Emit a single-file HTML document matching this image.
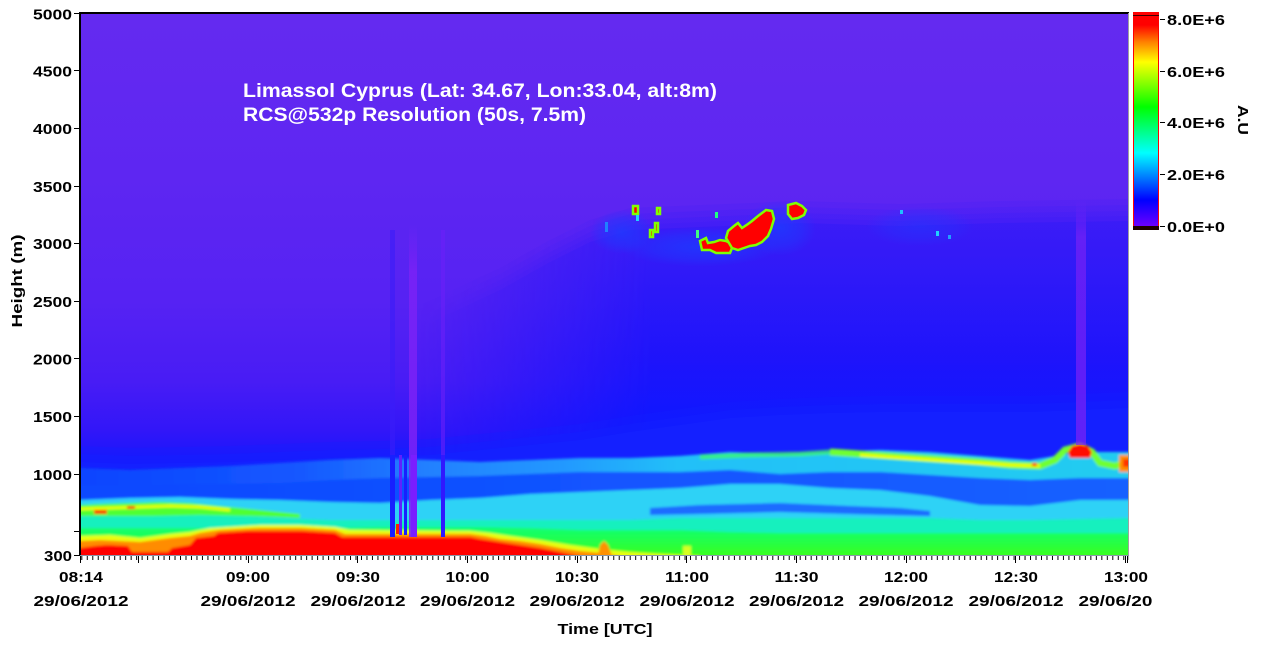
<!DOCTYPE html>
<html><head><meta charset="utf-8"><style>
html,body{margin:0;padding:0;background:#fff;width:1263px;height:649px;overflow:hidden}
svg{display:block}
text{font-family:"Liberation Sans",Arial,sans-serif;font-weight:bold}
</style></head><body>
<svg width="1263" height="649" viewBox="0 0 1263 649" xmlns="http://www.w3.org/2000/svg">
<defs>
<clipPath id="plot"><rect x="81" y="14" width="1047" height="541"/></clipPath>
<clipPath id="lastd"><rect x="1000" y="585" width="152" height="30"/></clipPath>
<linearGradient id="bg" x1="0" y1="13" x2="0" y2="555" gradientUnits="userSpaceOnUse">
<stop offset="0" stop-color="#642af0"/>
<stop offset="0.3" stop-color="#5e26f2"/>
<stop offset="0.53" stop-color="#5622f3"/>
<stop offset="0.68" stop-color="#481cf5"/>
<stop offset="0.77" stop-color="#3216f8"/>
<stop offset="0.83" stop-color="#1616fd"/>
<stop offset="1" stop-color="#1020ff"/>
</linearGradient>
<linearGradient id="rf" x1="0" y1="205" x2="0" y2="460" gradientUnits="userSpaceOnUse">
<stop offset="0" stop-color="#3c1cf6"/>
<stop offset="0.3" stop-color="#2a18f8"/>
<stop offset="0.6" stop-color="#1a14fb"/>
<stop offset="0.85" stop-color="#0c16ff"/>
<stop offset="1" stop-color="#0818ff"/>
</linearGradient>
<linearGradient id="mh" x1="420" y1="0" x2="650" y2="0" gradientUnits="userSpaceOnUse">
<stop offset="0" stop-color="#000"/>
<stop offset="1" stop-color="#fff"/>
</linearGradient>
<mask id="mright" maskUnits="userSpaceOnUse" x="0" y="0" width="1263" height="649"><rect x="0" y="0" width="1263" height="649" fill="url(#mh)"/></mask>
<radialGradient id="haze"><stop offset="0" stop-color="#1c3cff" stop-opacity="0.75"/><stop offset="0.6" stop-color="#1c3cff" stop-opacity="0.4"/><stop offset="1" stop-color="#1c3cff" stop-opacity="0"/></radialGradient>
<linearGradient id="sv" x1="0" y1="0" x2="0" y2="1"><stop offset="0" stop-color="#7c22f6" stop-opacity="0"/><stop offset="0.15" stop-color="#7c22f6" stop-opacity="0.8"/><stop offset="1" stop-color="#7c22f6" stop-opacity="0.9"/></linearGradient>
<linearGradient id="gL1" x1="80" y1="0" x2="1128" y2="0" gradientUnits="userSpaceOnUse">
<stop offset="0" stop-color="#0c44ff"/>
<stop offset="0.21" stop-color="#1458ff"/>
<stop offset="0.33" stop-color="#2480ff"/>
<stop offset="0.46" stop-color="#2498ff"/>
<stop offset="0.57" stop-color="#20c0f8"/>
<stop offset="1" stop-color="#20ccf0"/>
</linearGradient>
<linearGradient id="gL2" x1="80" y1="0" x2="1128" y2="0" gradientUnits="userSpaceOnUse">
<stop offset="0" stop-color="#0c48ff"/>
<stop offset="1" stop-color="#1860ff"/>
</linearGradient>
<linearGradient id="gG" x1="0" y1="528" x2="0" y2="555" gradientUnits="userSpaceOnUse">
<stop offset="0" stop-color="#10ff70"/>
<stop offset="1" stop-color="#38ff20"/>
</linearGradient>
<linearGradient id="cb" x1="0" y1="15" x2="0" y2="227" gradientUnits="userSpaceOnUse">
<stop offset="0" stop-color="#ff0000"/>
<stop offset="0.047" stop-color="#ff0000"/>
<stop offset="0.127" stop-color="#ff8000"/>
<stop offset="0.222" stop-color="#ffff00"/>
<stop offset="0.434" stop-color="#00ff00"/>
<stop offset="0.651" stop-color="#00ffff"/>
<stop offset="0.873" stop-color="#0000ff"/>
<stop offset="1" stop-color="#7000ff"/>
</linearGradient>
<pattern id="tk" x="81.3" y="556" width="5.484" height="5" patternUnits="userSpaceOnUse"><rect x="0" y="0" width="1" height="4" fill="#000"/></pattern>
<filter id="b1" x="-10%" y="-10%" width="120%" height="120%"><feGaussianBlur stdDeviation="1.3"/></filter>
<polygon id="rfp" points="380,345 440,318 500,290 550,262 590,242 630,230 700,227 800,223 900,226 1000,223 1128,221 1145,221 1145,580 380,580"/>
</defs>

<g clip-path="url(#plot)">
<rect x="60" y="0" width="1090" height="580" fill="url(#bg)"/>
<!-- right-side blue field -->
<g mask="url(#mright)" fill="url(#rf)">
<use href="#rfp" transform="translate(0,-22)" opacity="0.15"/>
<use href="#rfp" transform="translate(0,-16)" opacity="0.2"/>
<use href="#rfp" transform="translate(0,-10)" opacity="0.25"/>
<use href="#rfp" transform="translate(0,-5)" opacity="0.3"/>
<use href="#rfp" opacity="0.75"/>
</g>
<!-- cloud haze -->
<ellipse cx="700" cy="247" rx="80" ry="20" fill="url(#haze)"/>
<ellipse cx="622" cy="232" rx="32" ry="22" fill="url(#haze)"/>
<ellipse cx="780" cy="228" rx="36" ry="28" fill="url(#haze)"/>
<ellipse cx="920" cy="226" rx="55" ry="20" fill="url(#haze)" opacity="0.6"/>
<!-- blue layer soft top -->
<g fill="#1420ff">
<polygon transform="translate(0,-16)" opacity="0.3" points="60,462 80,462 130,464 180,463 230,462 280,460 330,458 380,457 430,455 480,450 530,445 580,440 630,432 680,425 730,418 780,415 830,413 880,412 930,412 980,412 1030,412 1080,410 1128,408 1145,408 1145,580 60,580"/>
<polygon transform="translate(0,-8)" opacity="0.4" points="60,462 80,462 130,464 180,463 230,462 280,460 330,458 380,457 430,455 480,450 530,445 580,440 630,432 680,425 730,418 780,415 830,413 880,412 930,412 980,412 1030,412 1080,410 1128,408 1145,408 1145,580 60,580"/>
<polygon points="60,462 80,462 130,464 180,463 230,462 280,460 330,458 380,457 430,455 480,450 530,445 580,440 630,432 680,425 730,418 780,415 830,413 880,412 930,412 980,412 1030,412 1080,410 1128,408 1145,408 1145,580 60,580"/>
</g>
<g filter="url(#b1)">
<polygon fill="url(#gL1)" points="60,468 80,468 130,470 180,468 230,466 280,463 330,460 380,458 430,460 480,462 530,460 580,458 630,458 680,456 730,452 780,454 830,452 880,450 930,452 980,456 1030,460 1080,452 1128,452 1145,452 1145,580 60,580"/>
<polygon fill="url(#gL2)" points="60,485 80,485 130,486 180,484 230,484 280,483 330,480 380,478 430,477 480,476 530,474 580,472 630,472 680,472 730,470 780,474 830,472 880,472 930,475 980,478 1030,480 1080,478 1128,478 1145,478 1145,580 60,580"/>
<polygon fill="#2ed2f6" points="60,500 80,500 130,498 180,497 230,499 280,500 330,502 380,503 430,500 480,498 530,494 580,492 630,490 680,488 730,484 780,484 830,488 880,490 930,496 980,505 1030,506 1080,500 1128,500 1145,500 1145,580 60,580"/>
<polygon fill="#1a6cff" points="650,508 700,505 780,503 850,506 900,508 930,511 930,516 850,514 780,512 700,514 650,515"/>
<polygon fill="#12f0be" points="60,512 80,512 130,512 180,513 230,515 280,518 330,520 380,520 430,520 480,520 530,520 580,520 630,520 680,518 730,518 780,518 830,518 880,518 930,518 980,520 1030,520 1080,519 1128,518 1145,518 1145,580 60,580"/>
<polygon fill="url(#gG)" points="60,528 80,528 130,528 180,528 230,528 280,528 330,528 380,527 430,527 480,527 530,528 580,530 630,530 680,530 730,532 780,533 830,533 880,533 930,533 980,533 1030,533 1080,533 1128,533 1145,533 1145,580 60,580"/>
<polygon fill="#50ff30" points="60,505 80,505 100,504 130,503 160,502 190,503 220,506 250,509 280,512 300,514 300,518 250,516 200,515 150,516 100,516 80,516 60,516"/>
<polyline fill="none" stroke="#e8ff00" stroke-width="3" points="80,509 110,508 140,507 170,506 200,507 230,510"/>
<rect x="94" y="510" width="13" height="4" fill="#ff2000"/>
<rect x="127" y="506" width="8" height="3" fill="#ff4000"/>
<polyline fill="none" stroke="#40ff60" stroke-width="5" opacity="0.7" points="700,457 750,455 800,454 830,452 860,454"/>
<polyline fill="none" stroke="#70ff30" stroke-width="7" points="830,452 860,454 890,456 920,458 950,460 980,462 1010,465 1040,466 1055,460 1065,450 1080,446 1092,452 1100,463 1115,466 1128,462 1140,462"/>
<polyline fill="none" stroke="#f0ff00" stroke-width="3" points="860,455 890,457 920,459 950,461 980,463 1010,465 1040,466"/>
<rect x="1032" y="463" width="5" height="3" fill="#ff2000"/>
<polygon fill="#ff1000" points="1068,452 1072,446 1080,444 1088,446 1092,452 1090,458 1070,458"/>
<rect x="1119" y="455" width="12" height="17" fill="#ff9000"/>
<rect x="1123" y="459" width="8" height="8" fill="#ff3000"/>
<polygon fill="#e8ff10" points="60,537 80,536 110,535 140,538 170,534 190,532 210,528 260,525 300,525 335,527 350,530 470,531 490,533 510,536 540,540 570,545 600,549 630,552 660,554 700,556 700,580 60,580"/>
<polygon fill="#ff8c00" points="60,541 80,541 100,540 120,541 140,542 170,538 190,536 200,533 220,530 260,528 300,528 335,530 345,534 470,534 485,536 500,539 520,541 540,544 560,548 580,551 600,553 620,556 620,580 60,580"/>
<polygon fill="#ff0000" points="60,548 80,548 95,546 107,545 128,546 132,552 168,552 172,548 190,545 196,538 214,536 218,533 250,531 300,531 335,533 342,537 470,537 480,539 500,542 520,545 540,548 555,551 570,554 580,556 580,580 60,580"/>
<polygon fill="#ff9000" points="598,556 600,545 604,541 608,545 612,556"/>
<rect x="683" y="546" width="8" height="10" fill="#d8ff20"/>
</g>
<!-- stripes -->
<rect x="390" y="230" width="5" height="225" fill="#3a1cf8" opacity="0.6"/>
<rect x="390" y="455" width="5" height="82" fill="#1820ff"/>
<rect x="399" y="455" width="3" height="80" fill="#6020ff"/>
<rect x="404" y="455" width="3" height="80" fill="#1820ff"/>
<rect x="409" y="225" width="8" height="312" fill="url(#sv)"/>
<rect x="411" y="455" width="6" height="82" fill="#7a1eff"/>
<rect x="441" y="230" width="4" height="225" fill="#6a20f8" opacity="0.6"/>
<rect x="441" y="455" width="4" height="82" fill="#3018ff"/>
<rect x="396" y="524" width="3" height="10" fill="#ff2000"/>
<rect x="1076" y="200" width="10" height="245" fill="url(#sv)" opacity="0.8"/>
<!-- cloud -->
<g stroke="#80ff00" stroke-width="2.5" fill="#ff0000">
<polygon points="700,241 706,238 708,243 714,242 720,240 726,241 730,243 732,248 730,253 716,253 710,250 702,250"/>
<polygon points="726,238 728,231 734,226 738,223 742,228 748,224 752,221 758,216 762,213 766,210 772,211 774,219 771,229 768,236 762,242 756,245 750,246 744,248 738,250 732,248"/>
<polygon points="788,205 796,203 802,206 806,210 804,215 798,218 792,219 788,214"/>
<rect x="633" y="206" width="5" height="8"/>
<rect x="657" y="208" width="3" height="6"/>
<rect x="650" y="230" width="3" height="7"/>
<rect x="655" y="223" width="3" height="9"/>
</g>
<rect x="715" y="212" width="3" height="6" fill="#20ff80"/>
<rect x="636" y="215" width="3" height="6" fill="#20d0ff"/>
<rect x="605" y="222" width="3" height="10" fill="#2080ff"/>
<rect x="900" y="210" width="3" height="4" fill="#20c0ff"/>
<rect x="936" y="231" width="3" height="5" fill="#20d0ff"/>
<rect x="948" y="235" width="3" height="4" fill="#20a0ff"/>
<rect x="696" y="230" width="3" height="8" fill="#40ff80"/>
<!-- title -->
<text x="243" y="97" font-size="19" fill="#fff" textLength="474" lengthAdjust="spacingAndGlyphs">Limassol Cyprus (Lat: 34.67, Lon:33.04, alt:8m)</text>
<text x="243" y="121" font-size="19" fill="#fff" textLength="343" lengthAdjust="spacingAndGlyphs">RCS@532p Resolution (50s, 7.5m)</text>
</g>

<!-- axes frame -->
<line x1="80" y1="13" x2="1129" y2="13" stroke="#000" stroke-width="2"/>
<line x1="80" y1="12" x2="80" y2="556" stroke="#000" stroke-width="2"/>
<line x1="1128.5" y1="13" x2="1128.5" y2="556" stroke="#a0a0a0" stroke-width="1"/>
<line x1="80" y1="555.5" x2="1129" y2="555.5" stroke="#8a96a8" stroke-width="1"/>

<!-- y ticks -->
<g stroke="#000" stroke-width="1">
<line x1="74" y1="13.5" x2="80" y2="13.5"/>
<line x1="74" y1="70.5" x2="80" y2="70.5"/>
<line x1="74" y1="128.5" x2="80" y2="128.5"/>
<line x1="74" y1="186.5" x2="80" y2="186.5"/>
<line x1="74" y1="243.5" x2="80" y2="243.5"/>
<line x1="74" y1="301.5" x2="80" y2="301.5"/>
<line x1="74" y1="358.5" x2="80" y2="358.5"/>
<line x1="74" y1="416.5" x2="80" y2="416.5"/>
<line x1="74" y1="474.5" x2="80" y2="474.5"/>
<line x1="74" y1="531.5" x2="80" y2="531.5"/>
<line x1="74" y1="555.5" x2="80" y2="555.5"/>
</g>
<g font-size="15" fill="#000" text-anchor="end">
<text x="72" y="19.5" textLength="39" lengthAdjust="spacingAndGlyphs">5000</text>
<text x="72" y="76.5" textLength="39" lengthAdjust="spacingAndGlyphs">4500</text>
<text x="72" y="134" textLength="39" lengthAdjust="spacingAndGlyphs">4000</text>
<text x="72" y="192" textLength="39" lengthAdjust="spacingAndGlyphs">3500</text>
<text x="72" y="249" textLength="39" lengthAdjust="spacingAndGlyphs">3000</text>
<text x="72" y="307" textLength="39" lengthAdjust="spacingAndGlyphs">2500</text>
<text x="72" y="364.5" textLength="39" lengthAdjust="spacingAndGlyphs">2000</text>
<text x="72" y="422" textLength="39" lengthAdjust="spacingAndGlyphs">1500</text>
<text x="72" y="480" textLength="39" lengthAdjust="spacingAndGlyphs">1000</text>
<text x="72" y="561" textLength="28" lengthAdjust="spacingAndGlyphs">300</text>
</g>
<text transform="translate(22,281) rotate(-90)" font-size="15" fill="#000" text-anchor="middle" textLength="93" lengthAdjust="spacingAndGlyphs">Height (m)</text>

<!-- x ticks -->
<rect x="80" y="556" width="1049" height="4" fill="url(#tk)"/>
<g stroke="#000" stroke-width="1">
<line x1="80.5" y1="556" x2="80.5" y2="563"/>
<line x1="138.5" y1="556" x2="138.5" y2="563"/>
<line x1="248.5" y1="556" x2="248.5" y2="563"/>
<line x1="357.5" y1="556" x2="357.5" y2="563"/>
<line x1="467.5" y1="556" x2="467.5" y2="563"/>
<line x1="577.5" y1="556" x2="577.5" y2="563"/>
<line x1="686.5" y1="556" x2="686.5" y2="563"/>
<line x1="796.5" y1="556" x2="796.5" y2="563"/>
<line x1="906.5" y1="556" x2="906.5" y2="563"/>
<line x1="1015.5" y1="556" x2="1015.5" y2="563"/>
<line x1="1125.5" y1="556" x2="1125.5" y2="563"/>
<line x1="1127.5" y1="556" x2="1127.5" y2="563"/>
</g>
<g font-size="15" fill="#000" text-anchor="middle">
<text x="81" y="582" textLength="44" lengthAdjust="spacingAndGlyphs">08:14</text>
<text x="248" y="582" textLength="44" lengthAdjust="spacingAndGlyphs">09:00</text>
<text x="358" y="582" textLength="44" lengthAdjust="spacingAndGlyphs">09:30</text>
<text x="467.5" y="582" textLength="44" lengthAdjust="spacingAndGlyphs">10:00</text>
<text x="577" y="582" textLength="44" lengthAdjust="spacingAndGlyphs">10:30</text>
<text x="687" y="582" textLength="44" lengthAdjust="spacingAndGlyphs">11:00</text>
<text x="796.5" y="582" textLength="44" lengthAdjust="spacingAndGlyphs">11:30</text>
<text x="906" y="582" textLength="44" lengthAdjust="spacingAndGlyphs">12:00</text>
<text x="1016" y="582" textLength="44" lengthAdjust="spacingAndGlyphs">12:30</text>
<text x="1126" y="582" textLength="44" lengthAdjust="spacingAndGlyphs">13:00</text>
<text x="81" y="606" textLength="95" lengthAdjust="spacingAndGlyphs">29/06/2012</text>
<text x="248" y="606" textLength="95" lengthAdjust="spacingAndGlyphs">29/06/2012</text>
<text x="358" y="606" textLength="95" lengthAdjust="spacingAndGlyphs">29/06/2012</text>
<text x="467.5" y="606" textLength="95" lengthAdjust="spacingAndGlyphs">29/06/2012</text>
<text x="577" y="606" textLength="95" lengthAdjust="spacingAndGlyphs">29/06/2012</text>
<text x="687" y="606" textLength="95" lengthAdjust="spacingAndGlyphs">29/06/2012</text>
<text x="796.5" y="606" textLength="95" lengthAdjust="spacingAndGlyphs">29/06/2012</text>
<text x="906" y="606" textLength="95" lengthAdjust="spacingAndGlyphs">29/06/2012</text>
<text x="1016" y="606" textLength="95" lengthAdjust="spacingAndGlyphs">29/06/2012</text>
<text x="1126" y="606" textLength="95" lengthAdjust="spacingAndGlyphs" clip-path="url(#lastd)">29/06/2012</text>
<text x="605" y="634" textLength="95" lengthAdjust="spacingAndGlyphs">Time [UTC]</text>
</g>

<!-- colorbar -->
<rect x="1133.5" y="15.5" width="25" height="211" fill="url(#cb)" stroke="#ff0000" stroke-width="1"/>
<rect x="1133" y="12" width="26" height="3" fill="#ff0000"/>
<line x1="1133" y1="15.5" x2="1159" y2="15.5" stroke="#400000" stroke-width="1"/>
<rect x="1133" y="226" width="26" height="4" fill="#200000"/>
<g stroke="#000" stroke-width="1">
<line x1="1160" y1="19.5" x2="1165" y2="19.5"/>
<line x1="1160" y1="71.5" x2="1165" y2="71.5"/>
<line x1="1160" y1="122.5" x2="1165" y2="122.5"/>
<line x1="1160" y1="174.5" x2="1165" y2="174.5"/>
<line x1="1160" y1="226.5" x2="1165" y2="226.5"/>
</g>
<g font-size="15" fill="#000">
<text x="1167" y="25" textLength="58" lengthAdjust="spacingAndGlyphs">8.0E+6</text>
<text x="1167" y="77" textLength="58" lengthAdjust="spacingAndGlyphs">6.0E+6</text>
<text x="1167" y="128" textLength="58" lengthAdjust="spacingAndGlyphs">4.0E+6</text>
<text x="1167" y="180" textLength="58" lengthAdjust="spacingAndGlyphs">2.0E+6</text>
<text x="1167" y="232" textLength="58" lengthAdjust="spacingAndGlyphs">0.0E+0</text>
</g>
<text transform="translate(1238,120) rotate(90)" font-size="15" fill="#000" text-anchor="middle" textLength="30" lengthAdjust="spacingAndGlyphs">A.U</text>
</svg>
</body></html>
